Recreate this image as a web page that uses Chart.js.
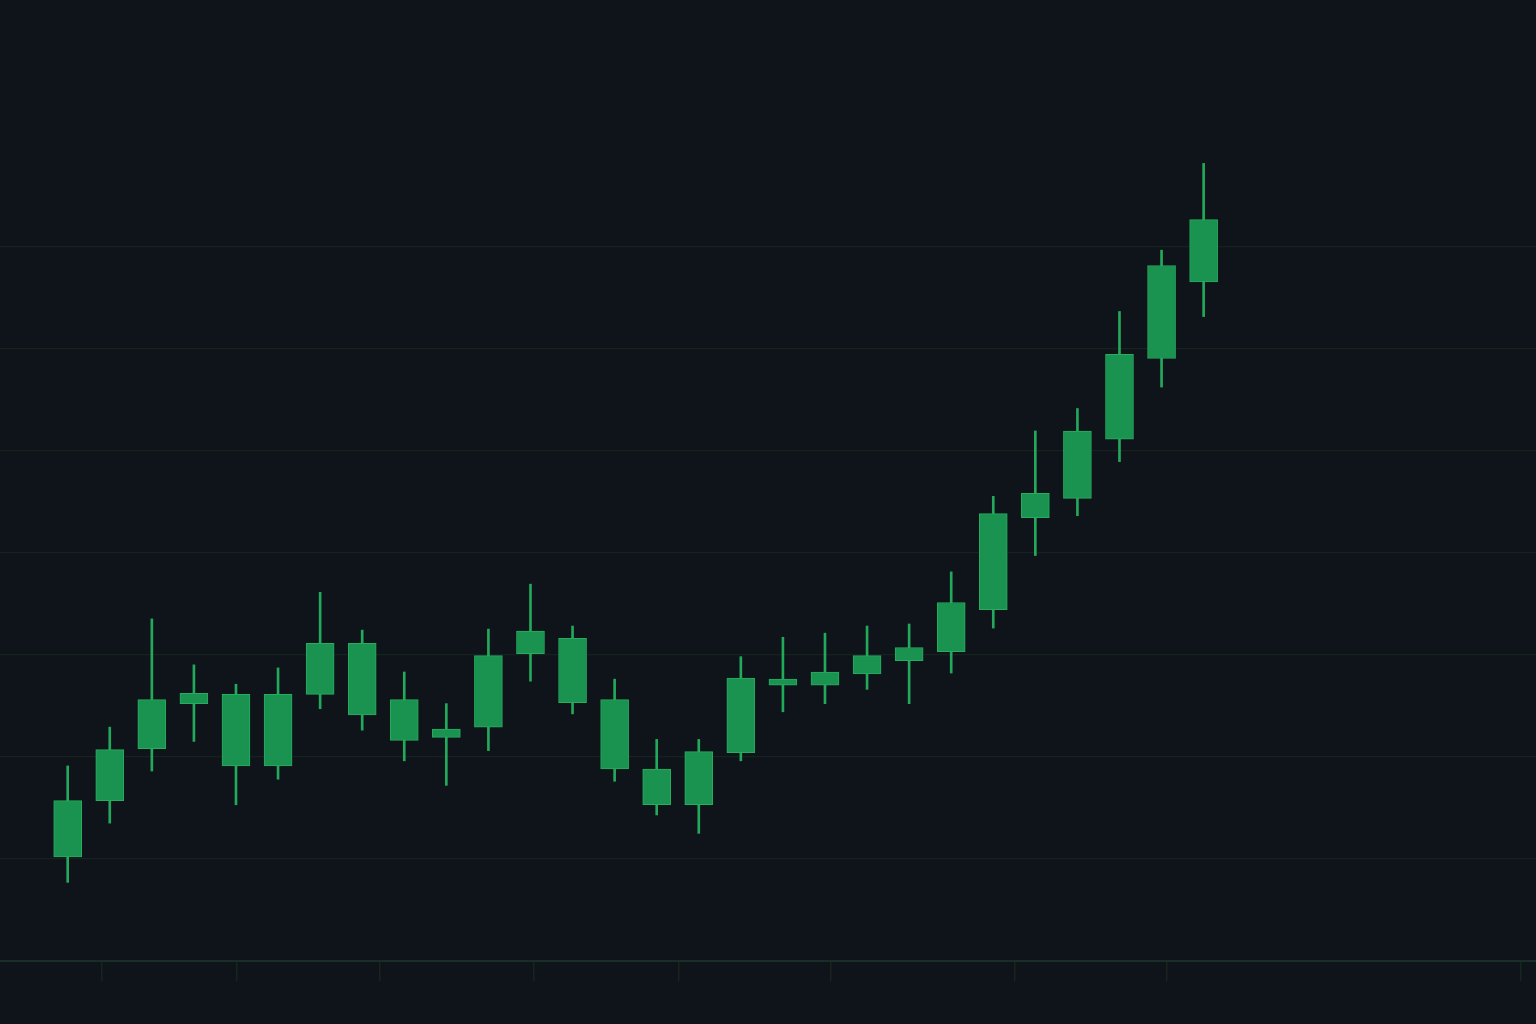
<!DOCTYPE html>
<html>
<head>
<meta charset="utf-8">
<script src="https://cdn.jsdelivr.net/npm/chart.js@4.4.1/dist/chart.umd.min.js"></script>
<style>
  html, body { margin: 0; padding: 0; background: #0e1419; }
  #wrap { width: 1536px; height: 1024px; }
</style>
</head>
<body>
<div id="wrap"><canvas id="candles"></canvas></div>
<script>
// candle values (all candles close above open)
const opens  = [110.2, 115.7, 120.8, 125.2, 119.1, 119.1, 126.1, 124.1, 121.6, 121.9, 122.9, 130.1, 125.3, 118.8,
                115.3, 115.3, 120.4, 127.0, 127.0, 128.1, 129.4, 130.3, 134.4, 143.4, 145.3, 151.1, 159.0, 166.5];
const closes = [115.7, 120.7, 125.6, 126.2, 126.1, 126.1, 131.1, 131.1, 125.6, 122.7, 129.9, 132.3, 131.6, 125.6,
                118.8, 120.5, 127.7, 127.6, 128.3, 129.9, 130.7, 135.1, 143.8, 145.8, 151.9, 159.4, 168.1, 172.6];
const highs  = [119.1, 122.9, 133.5, 129.0, 127.1, 128.7, 136.1, 132.4, 128.3, 125.2, 132.5, 136.9, 132.8, 127.6,
                121.7, 121.7, 129.8, 131.7, 132.1, 132.8, 133.0, 138.1, 145.5, 151.9, 154.1, 163.6, 169.6, 178.1];
const lows   = [107.7, 113.5, 118.6, 121.5, 115.3, 117.8, 124.7, 122.6, 119.6, 117.2, 120.6, 127.4, 124.2, 117.6,
                114.3, 112.5, 119.6, 124.4, 125.2, 126.6, 125.2, 128.2, 132.6, 139.7, 143.6, 148.9, 156.2, 163.1];

// unlabelled tick marks under the time axis
const xTicks = [0.82, 4.02, 7.42, 11.08, 14.53, 18.14, 22.52, 26.13, 34.54];
// price grid
const yMin = 100, yMax = 194.1, yStep = 10, gridTop = 170;

const bodies = opens.map((o, i) => ({ x: i, y: [o, closes[i]] }));
const wicks = lows.map((l, i) => ({ x: i, y: [l, highs[i]] }));

const ctx = document.getElementById('candles').getContext('2d');
new Chart(ctx, {
  type: 'bar',
  data: {
    datasets: [
      {
        label: 'body',
        data: bodies,
        grouped: false,
        barThickness: 28,
        backgroundColor: '#1b9350',
        borderColor: '#27ad60',
        borderWidth: 1,
        borderSkipped: false
      },
      {
        label: 'wick',
        data: wicks,
        grouped: false,
        barThickness: 2,
        backgroundColor: '#24a85b',
        borderWidth: 0
      }
    ]
  },
  options: {
    responsive: true,
    maintainAspectRatio: false,
    animation: false,
    layout: { padding: { left: 0, right: 0, top: 0, bottom: 43 } },
    plugins: { legend: { display: false }, tooltip: { enabled: false } },
    scales: {
      x: {
        type: 'linear',
        offset: false,
        min: -1.609,
        max: 34.9,
        afterBuildTicks: scale => { scale.ticks = xTicks.map(v => ({ value: v })); },
        ticks: { display: false },
        grid: { offset: false, drawOnChartArea: false, drawTicks: true, tickLength: 20, tickColor: '#17241f', lineWidth: 1.5 },
        border: { display: true, color: '#1a2d29', width: 2 }
      },
      y: {
        min: yMin,
        max: yMax,
        ticks: { display: false, stepSize: yStep },
        grid: {
          drawTicks: false,
          color: c => (c.tick && c.tick.value > yMin && c.tick.value <= gridTop) ? '#15221f' : 'rgba(0,0,0,0)',
          lineWidth: 1.2
        },
        border: { display: false }
      }
    }
  }
});
</script>
</body>
</html>
